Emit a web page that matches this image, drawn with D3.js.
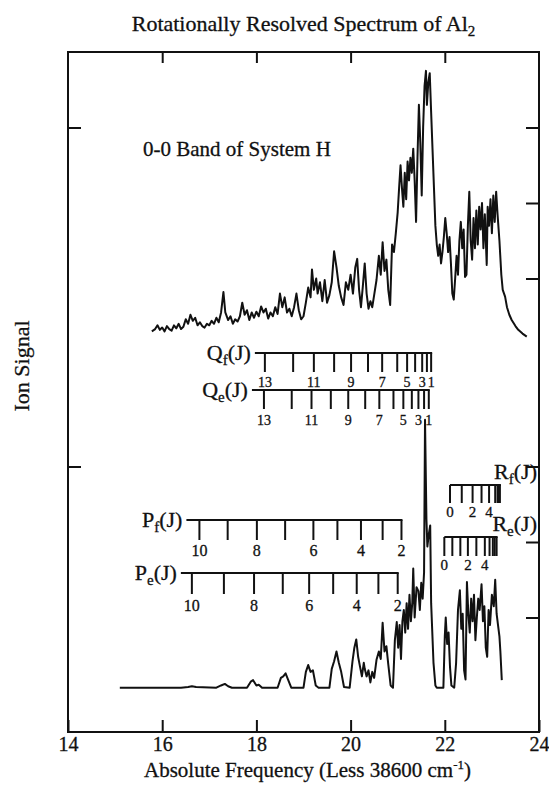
<!DOCTYPE html>
<html>
<head>
<meta charset="utf-8">
<script src="https://cdn.jsdelivr.net/npm/d3@7"></script>
<style>
  body { margin: 0; background: #fff; }
  text { font-family: "Liberation Serif", "Times New Roman", serif; fill: #111; stroke: #111; stroke-width: 0.3px; }
</style>
</head>
<body>
<svg id="chart"></svg>
<script>
/* global d3 */
const width = 549
const height = 787
const margin = { top: 52, right: 10, bottom: 55, left: 68 }

// x axis ticks (frequency less 38600 cm-1)
const xTicks = [14, 16, 18, 20, 22, 24]
const yTicks = [1, 2, 3]
const leftTicks = [3]

// upper trace: [frequency, ion signal]
const upperSpectrum = [
  [15.78, 0.30], [15.85, 0.33], [15.90, 0.38], [15.95, 0.32], [16.00, 0.35], [16.05, 0.30],
  [16.10, 0.37], [16.15, 0.33], [16.20, 0.31], [16.25, 0.38], [16.30, 0.34], [16.35, 0.40],
  [16.40, 0.33], [16.45, 0.36], [16.50, 0.46], [16.55, 0.40], [16.60, 0.52], [16.65, 0.44],
  [16.70, 0.48], [16.75, 0.38], [16.80, 0.42], [16.85, 0.37], [16.90, 0.35], [16.95, 0.40],
  [17.00, 0.38], [17.05, 0.44], [17.10, 0.40], [17.15, 0.48], [17.20, 0.42], [17.25, 0.55],
  [17.30, 0.82], [17.34, 0.55], [17.40, 0.45], [17.45, 0.50], [17.50, 0.40], [17.55, 0.46],
  [17.60, 0.43], [17.65, 0.50], [17.70, 0.68], [17.75, 0.52], [17.80, 0.58], [17.85, 0.45],
  [17.90, 0.55], [17.95, 0.48], [18.00, 0.56], [18.05, 0.50], [18.10, 0.63], [18.15, 0.55],
  [18.20, 0.60], [18.25, 0.47], [18.30, 0.55], [18.35, 0.50], [18.40, 0.62], [18.45, 0.53],
  [18.50, 0.80], [18.55, 0.62], [18.60, 0.75], [18.65, 0.55], [18.70, 0.60], [18.75, 0.50],
  [18.80, 0.62], [18.85, 0.80], [18.90, 0.58], [18.95, 0.46], [19.00, 0.50], [19.05, 0.68],
  [19.10, 0.88], [19.15, 0.75], [19.18, 1.12], [19.22, 0.85], [19.27, 1.00], [19.30, 0.80],
  [19.35, 0.95], [19.40, 0.70], [19.45, 0.98], [19.50, 0.68], [19.55, 0.78], [19.60, 0.95],
  [19.65, 1.36], [19.70, 1.15], [19.75, 0.90], [19.80, 0.75], [19.85, 0.65], [19.90, 0.95],
  [19.95, 0.85], [20.00, 1.05], [20.05, 0.80], [20.10, 1.15], [20.14, 1.26], [20.18, 0.85],
  [20.22, 0.62], [20.26, 0.90], [20.30, 1.20], [20.34, 0.80], [20.38, 0.60], [20.42, 0.70],
  [20.46, 0.62], [20.50, 0.78], [20.55, 0.98], [20.60, 1.30], [20.64, 1.05], [20.68, 1.48],
  [20.72, 1.10], [20.76, 1.25], [20.80, 0.85], [20.84, 0.65], [20.88, 1.45], [20.92, 1.35],
  [20.96, 1.60], [21.00, 1.88], [21.03, 2.20], [21.06, 2.50], [21.09, 2.20], [21.12, 1.95],
  [21.15, 2.40], [21.18, 2.05], [21.21, 2.55], [21.24, 2.30], [21.27, 2.60], [21.30, 2.40],
  [21.33, 2.72], [21.36, 2.30], [21.39, 1.75], [21.42, 2.60], [21.45, 3.30], [21.48, 2.80],
  [21.51, 2.10], [21.54, 3.00], [21.57, 3.55], [21.60, 3.75], [21.62, 3.30], [21.65, 3.60],
  [21.68, 3.72], [21.71, 3.20], [21.74, 2.70], [21.77, 2.20], [21.80, 1.70], [21.83, 1.45],
  [21.86, 1.30], [21.89, 1.45], [21.92, 1.20], [21.95, 1.35], [21.98, 1.55], [22.01, 1.80],
  [22.04, 1.60], [22.07, 1.35], [22.10, 1.55], [22.13, 1.20], [22.16, 0.80], [22.19, 0.72],
  [22.22, 1.00], [22.25, 1.30], [22.28, 1.05], [22.31, 1.50], [22.34, 1.75], [22.37, 1.40],
  [22.40, 1.65], [22.43, 1.02], [22.46, 1.05], [22.49, 1.70], [22.52, 2.15], [22.55, 1.50],
  [22.58, 1.25], [22.61, 1.80], [22.64, 1.40], [22.67, 1.90], [22.70, 1.45], [22.73, 1.95],
  [22.76, 1.65], [22.79, 2.00], [22.82, 1.40], [22.85, 1.85], [22.89, 1.18], [22.91, 1.95],
  [22.94, 1.70], [22.97, 2.05], [23.00, 1.60], [23.03, 2.10], [23.06, 1.75], [23.09, 2.15],
  [23.12, 1.85], [23.16, 1.50], [23.20, 1.05], [23.23, 0.85], [23.28, 0.76], [23.32, 0.62],
  [23.37, 0.52], [23.42, 0.45], [23.50, 0.37], [23.56, 0.32], [23.65, 0.27], [23.74, 0.23]
]

// lower trace: [frequency, ion signal]
const lowerSpectrum = [
  [15.10, 0.07], [16.40, 0.07], [16.55, 0.08], [16.63, 0.09], [16.72, 0.08], [17.15, 0.07],
  [17.25, 0.10], [17.33, 0.12], [17.40, 0.09], [17.48, 0.07], [17.80, 0.07], [17.88, 0.15],
  [17.93, 0.17], [18.00, 0.10], [18.05, 0.11], [18.12, 0.07], [18.45, 0.07], [18.52, 0.20],
  [18.57, 0.22], [18.62, 0.26], [18.67, 0.18], [18.74, 0.07], [19.00, 0.07], [19.05, 0.28],
  [19.10, 0.37], [19.15, 0.28], [19.20, 0.30], [19.26, 0.10], [19.32, 0.07], [19.55, 0.07],
  [19.60, 0.32], [19.65, 0.42], [19.70, 0.55], [19.75, 0.40], [19.80, 0.28], [19.86, 0.08],
  [19.98, 0.07], [20.04, 0.42], [20.08, 0.60], [20.12, 0.71], [20.16, 0.48], [20.20, 0.35],
  [20.24, 0.22], [20.28, 0.40], [20.30, 0.32], [20.34, 0.22], [20.38, 0.30], [20.42, 0.14],
  [20.46, 0.28], [20.50, 0.20], [20.55, 0.44], [20.60, 0.55], [20.64, 0.45], [20.68, 0.93],
  [20.72, 0.55], [20.76, 0.62], [20.80, 0.38], [20.85, 0.10], [20.90, 0.07], [20.94, 0.70],
  [20.98, 0.94], [21.01, 0.60], [21.04, 0.90], [21.07, 0.45], [21.10, 0.95], [21.13, 1.10],
  [21.16, 0.80], [21.19, 1.19], [21.22, 0.85], [21.25, 1.30], [21.28, 0.95], [21.31, 1.20],
  [21.33, 1.65], [21.36, 1.00], [21.40, 1.40], [21.44, 1.35], [21.47, 1.10], [21.50, 1.46],
  [21.53, 1.25], [21.56, 1.60], [21.58, 3.62], [21.61, 2.30], [21.63, 1.94], [21.66, 2.10],
  [21.69, 2.22], [21.71, 1.19], [21.76, 0.40], [21.80, 0.10], [21.83, 0.07], [21.97, 0.07],
  [22.00, 0.75], [22.02, 1.00], [22.05, 0.65], [22.08, 0.80], [22.11, 0.35], [22.14, 0.10],
  [22.20, 0.07], [22.24, 0.40], [22.28, 1.10], [22.32, 1.36], [22.35, 0.85], [22.38, 1.05],
  [22.41, 0.30], [22.44, 0.18], [22.47, 1.47], [22.50, 1.05], [22.53, 0.80], [22.56, 1.25],
  [22.59, 0.95], [22.62, 1.30], [22.65, 0.70], [22.68, 1.00], [22.71, 1.25], [22.74, 1.10],
  [22.78, 1.44], [22.81, 0.95], [22.84, 1.15], [22.87, 0.60], [22.90, 0.48], [22.93, 1.10],
  [22.96, 0.90], [23.00, 1.30], [23.04, 1.15], [23.07, 1.50], [23.10, 1.05], [23.13, 0.90],
  [23.16, 0.75], [23.18, 0.55], [23.21, 0.17]
]

// rotational line assignments (line positions and their J labels)
const qfFreq = [18.18, 18.78, 19.22, 19.65, 20.01, 20.37, 20.67, 20.99, 21.20, 21.37, 21.52, 21.62, 21.71]
const qfLabels = ['13', '', '11', '', '9', '', '7', '', '5', '', '3', '', '1']
const qeFreq = [18.16, 18.75, 19.17, 19.58, 19.95, 20.31, 20.61, 20.91, 21.12, 21.30, 21.44, 21.56, 21.66]
const qeLabels = ['13', '', '11', '', '9', '', '7', '', '5', '', '3', '', '1']
const pfFreq = [16.79, 17.39, 18.01, 18.61, 19.21, 19.72, 20.22, 20.68, 21.08]
const pfLabels = ['10', '', '8', '', '6', '', '4', '', '2']
const peFreq = [16.63, 17.31, 17.95, 18.56, 19.12, 19.63, 20.13, 20.59, 21.00]
const peLabels = ['10', '', '8', '', '6', '', '4', '', '2']
const rfFreq = [22.11, 22.36, 22.59, 22.78, 22.94, 23.07, 23.12, 23.15, 23.17]
const rfLabels = ['0', '', '2', '', '4', '', '', '', '']
const reFreq = [21.99, 22.16, 22.33, 22.49, 22.67, 22.85, 22.95, 23.02, 23.06, 23.10]
const reLabels = ['0', '', '', '2', '', '4', '', '', '', '']

const svg = d3.select('#chart').attr('width', width).attr('height', height)

const xScale = d3.scaleLinear()
  .domain([14, 24])
  .range([margin.left, width - margin.right])
const yUpper = d3.scaleLinear().domain([0, 4]).range([354, 52])
const yLower = d3.scaleLinear().domain([0, 4]).range([693, 391])

const plotBottom = height - margin.bottom
const plotRight = width - margin.right

// axes (ticks pointing inward, frame drawn separately)
svg.append('g')
  .attr('transform', `translate(0, ${plotBottom})`)
  .call(d3.axisBottom(xScale).tickValues(xTicks).tickSizeInner(-12).tickSizeOuter(0).tickPadding(5).tickFormat(d3.format('d')))
  .call(g => g.select('.domain').remove())
  .call(g => g.selectAll('line').attr('stroke', '#111').attr('stroke-width', 2))
  .call(g => g.selectAll('text').attr('font-size', 20).attr('font-family', 'Liberation Serif, serif').attr('fill', '#111'))

svg.append('g')
  .attr('transform', `translate(0, ${margin.top})`)
  .call(d3.axisTop(xScale).tickValues(xTicks.slice(1, -1)).tickSizeInner(-11).tickSizeOuter(0).tickFormat(''))
  .call(g => g.select('.domain').remove())
  .call(g => g.selectAll('line').attr('stroke', '#111').attr('stroke-width', 2))

;[yUpper, yLower].forEach(y => {
  svg.append('g')
    .attr('transform', `translate(${plotRight}, 0)`)
    .call(d3.axisRight(y).tickValues(yTicks).tickSizeInner(-13).tickSizeOuter(0).tickFormat(''))
    .call(g => g.select('.domain').remove())
    .call(g => g.selectAll('line').attr('stroke', '#111').attr('stroke-width', 2))
  svg.append('g')
    .attr('transform', `translate(${margin.left}, 0)`)
    .call(d3.axisLeft(y).tickValues(leftTicks).tickSizeInner(-13).tickSizeOuter(0).tickFormat(''))
    .call(g => g.select('.domain').remove())
    .call(g => g.selectAll('line').attr('stroke', '#111').attr('stroke-width', 2))
})

svg.append('rect')
  .attr('x', margin.left)
  .attr('y', margin.top)
  .attr('width', plotRight - margin.left)
  .attr('height', plotBottom - margin.top)
  .attr('fill', 'none')
  .attr('stroke', '#111')
  .attr('stroke-width', 2)

// spectra
const traces = [
  { data: upperSpectrum, y: yUpper },
  { data: lowerSpectrum, y: yLower }
]
traces.forEach(t => {
  const line = d3.line().x(d => xScale(d[0])).y(d => t.y(d[1]))
  svg.append('path')
    .datum(t.data)
    .attr('d', line)
    .attr('fill', 'none')
    .attr('stroke', '#111')
    .attr('stroke-width', 2)
    .attr('stroke-linejoin', 'round')
})

// assignment rulers
const rulers = [
  { br: 'Q', sub: 'f', freq: qfFreq, labels: qfLabels, y: 353, lead: 10, tick: 19, lab: 34, size: 14, name: 'left' },
  { br: 'Q', sub: 'e', freq: qeFreq, labels: qeLabels, y: 390, lead: 12, tick: 19, lab: 35, size: 14, name: 'left' },
  { br: 'P', sub: 'f', freq: pfFreq, labels: pfLabels, y: 520, lead: 13, tick: 20, lab: 36, size: 16, name: 'left' },
  { br: 'P', sub: 'e', freq: peFreq, labels: peLabels, y: 573, lead: 11, tick: 21, lab: 38, size: 16, name: 'left' },
  { br: 'R', sub: 'f', freq: rfFreq, labels: rfLabels, y: 485, lead: 0, tick: 18, lab: 32, size: 15, name: 'right' },
  { br: 'R', sub: 'e', freq: reFreq, labels: reLabels, y: 537, lead: 0, tick: 19, lab: 33, size: 15, name: 'right' }
]

rulers.forEach(r => {
  const g = svg.append('g')
  const x0 = xScale(r.freq[0]) - r.lead
  const x1 = xScale(r.freq[r.freq.length - 1])
  g.append('line')
    .attr('x1', x0).attr('x2', x1 + 1)
    .attr('y1', r.y).attr('y2', r.y)
    .attr('stroke', '#111').attr('stroke-width', 2)
  g.selectAll('line.tick')
    .data(r.freq)
    .join('line')
    .attr('class', 'tick')
    .attr('x1', d => xScale(d)).attr('x2', d => xScale(d))
    .attr('y1', r.y).attr('y2', r.y + r.tick)
    .attr('stroke', '#111').attr('stroke-width', 2)
  g.selectAll('text.lab')
    .data(r.freq.map((f, i) => ({ f, t: r.labels[i] })).filter(d => d.t))
    .join('text')
    .attr('class', 'lab')
    .attr('x', d => xScale(d.f))
    .attr('y', r.y + r.lab)
    .attr('text-anchor', 'middle')
    .attr('font-size', r.size)
    .text(d => d.t)

  const name = g.append('text').attr('font-size', 22)
  if (r.name === 'left') {
    name.attr('x', x0 - 4).attr('y', r.y + 7).attr('text-anchor', 'end')
  } else {
    name.attr('x', plotRight - 2).attr('y', r.y - 6).attr('text-anchor', 'end')
  }
  name.append('tspan').text(r.br)
  name.append('tspan').attr('font-size', 15).attr('dy', 5).text(r.sub)
  name.append('tspan').attr('dy', -5).text('(J)')
})

// titles
const title = svg.append('text')
  .attr('x', (margin.left + plotRight) / 2)
  .attr('y', 31)
  .attr('text-anchor', 'middle')
  .attr('font-size', 22)
title.append('tspan').text('Rotationally Resolved Spectrum of Al')
title.append('tspan').attr('font-size', 15).attr('dy', 5).text('2')

svg.append('text')
  .attr('x', 143)
  .attr('y', 156)
  .attr('font-size', 21)
  .text('0-0 Band of System H')

const xTitle = svg.append('text')
  .attr('x', (margin.left + plotRight) / 2 + 4)
  .attr('y', 777)
  .attr('text-anchor', 'middle')
  .attr('font-size', 21)
xTitle.append('tspan').text('Absolute Frequency (Less 38600 cm')
xTitle.append('tspan').attr('font-size', 13).attr('dy', -8).text('-1')
xTitle.append('tspan').attr('dy', 8).text(')')

svg.append('text')
  .attr('transform', 'translate(29, 366) rotate(-90)')
  .attr('text-anchor', 'middle')
  .attr('font-size', 22)
  .text('Ion Signal')
</script>
</body>
</html>
